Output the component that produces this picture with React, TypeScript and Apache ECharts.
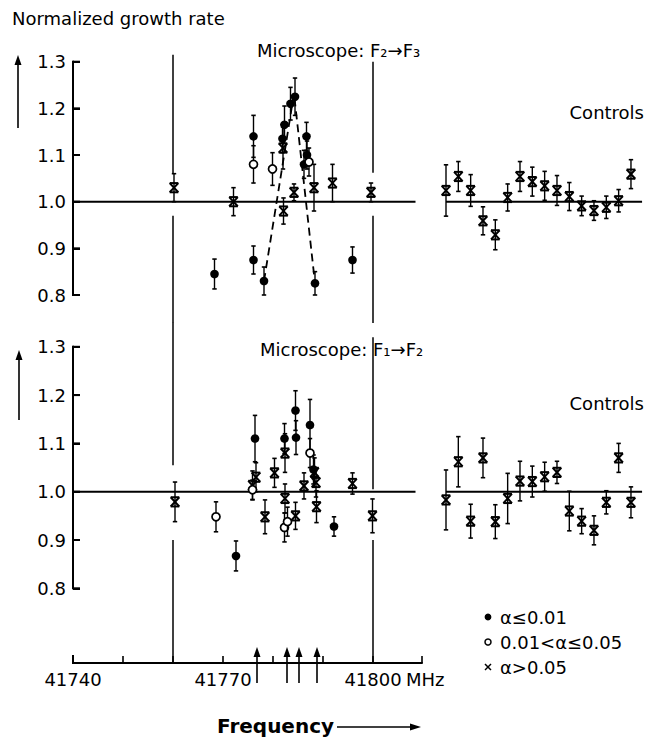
import React, { useEffect, useRef } from "react";
import * as echarts from "echarts";

// ---------- DATA ----------
// [frequency (MHz), normalized growth rate, error, kind]  kind: f = α≤0.01, o = 0.01<α≤0.05, x = α>0.05
const topMain: [number, number, number, string][] = [
  [41760.2, 1.03, 0.03, "x"],
  [41768.3, 0.845, 0.032, "f"],
  [41772.1, 1.0, 0.03, "x"],
  [41776.1, 1.14, 0.045, "f"],
  [41776.1, 1.08, 0.04, "o"],
  [41776.1, 0.875, 0.03, "f"],
  [41778.2, 0.83, 0.03, "f"],
  [41779.9, 1.07, 0.035, "o"],
  [41782.1, 0.98, 0.028, "x"],
  [41782.3, 1.165, 0.04, "f"],
  [41781.9, 1.135, 0.03, "f"],
  [41782.0, 1.115, 0.045, "x"],
  [41783.5, 1.21, 0.035, "f"],
  [41784.4, 1.225, 0.04, "f"],
  [41784.2, 1.02, 0.018, "x"],
  [41786.7, 1.14, 0.03, "f"],
  [41786.8, 1.1, 0.03, "f"],
  [41787.2, 1.085, 0.03, "o"],
  [41786.2, 1.08, 0.03, "f"],
  [41788.2, 1.03, 0.05, "x"],
  [41788.4, 0.825, 0.025, "f"],
  [41791.9, 1.04, 0.04, "x"],
  [41795.9, 0.875, 0.028, "f"],
  [41799.6, 1.02, 0.02, "x"],
];

const bottomMain: [number, number, number, string][] = [
  [41760.4, 0.979, 0.041, "x"],
  [41768.6, 0.948, 0.031, "o"],
  [41772.6, 0.867, 0.031, "f"],
  [41776.4, 1.11, 0.048, "f"],
  [41776.6, 1.03, 0.03, "x"],
  [41775.9, 1.013, 0.03, "x"],
  [41775.9, 1.004, 0.02, "o"],
  [41778.4, 0.948, 0.035, "x"],
  [41780.3, 1.039, 0.03, "x"],
  [41782.3, 1.11, 0.031, "f"],
  [41782.4, 1.08, 0.04, "x"],
  [41782.4, 0.986, 0.03, "x"],
  [41782.3, 0.926, 0.03, "o"],
  [41782.9, 0.938, 0.03, "o"],
  [41784.5, 1.168, 0.041, "f"],
  [41784.6, 1.112, 0.035, "f"],
  [41784.5, 0.95, 0.028, "x"],
  [41786.2, 1.012, 0.027, "x"],
  [41787.4, 1.138, 0.053, "f"],
  [41787.4, 1.08, 0.03, "o"],
  [41788.1, 1.046, 0.03, "f"],
  [41788.3, 1.04, 0.03, "x"],
  [41788.6, 1.019, 0.03, "x"],
  [41788.7, 0.969, 0.033, "x"],
  [41792.2, 0.928, 0.02, "f"],
  [41795.9, 1.017, 0.022, "x"],
  [41799.9, 0.95, 0.035, "x"],
];

const topControlValues = [1.024, 1.054, 1.024, 0.959, 0.929, 1.009, 1.054, 1.043, 1.034, 1.024, 1.011, 0.991, 0.981, 0.988, 1.002, 1.059];
const topControlErrors = [0.055, 0.032, 0.034, 0.03, 0.032, 0.029, 0.032, 0.031, 0.031, 0.032, 0.03, 0.021, 0.021, 0.024, 0.024, 0.031];
const bottomControlValues = [0.983, 1.062, 0.939, 1.07, 0.938, 0.986, 1.022, 1.021, 1.031, 1.04, 0.96, 0.939, 0.92, 0.978, 1.07, 0.978];
const bottomControlErrors = [0.062, 0.052, 0.035, 0.041, 0.035, 0.052, 0.041, 0.032, 0.03, 0.023, 0.041, 0.026, 0.03, 0.024, 0.03, 0.032];

// dashed resonance curve in the upper panel
const topPeakCurve = [
  [41778.2, 0.83],
  [41784.2, 1.232],
  [41788.4, 0.825],
];

// vertical reference lines [frequency, from value, to value]; to value 0 = down to the frequency axis
const TO_AXIS = 0;
const referenceLinesTop = [
  [41760, 1.315, 1.06],
  [41760, 0.97, 0.74],
  [41800, 1.3, 1.062],
  [41800, 0.97, 0.74],
];
const referenceLinesBottom = [
  [41760, 1.35, 1.055],
  [41760, 0.9, TO_AXIS],
  [41800, 1.32, 1.005],
  [41800, 0.9, TO_AXIS],
];

// arrows marking transition frequencies
const transitionFreqs = [41776.8, 41782.8, 41785.2, 41788.8];

const yTickValues = [0.8, 0.9, 1.0, 1.1, 1.2, 1.3];
const xTickLabels = [41740, 41770, 41800];
const legendLabels = ["α≤0.01", "0.01<α≤0.05", "α>0.05"];
const BASELINE = 1.0;
const BASELINE_END = 41808.5;
const CTRL_BASELINE_END = 15.9;

// ---------- LAYOUT ----------
const FONT = "DejaVu Sans";
const F_MIN = 41740;
const F_MAX = 41809.8;
const Y_MIN = 0.8;
const Y_MAX = 1.3;
const MAIN_X = 73;
const MAIN_W = 349;
const CTRL_X = 446;
const CTRL_W = 197.3;
const TOP_Y = 61.7;
const TOP_H = 233.3;
const BOT_Y = 346.8;
const BOT_H = 241.5;
const X_AXIS_OFFSET = 663 - (BOT_Y + BOT_H);
const Y_TICK_LEN = 7;

function marker(kind: string, cx: number, cy: number): any[] {
  if (kind === "f") {
    return [{ type: "circle", shape: { cx, cy, r: 4.3 }, style: { fill: "#000" } }];
  }
  if (kind === "o") {
    return [{ type: "circle", shape: { cx, cy, r: 4 }, style: { fill: "#fff", stroke: "#000", lineWidth: 1.7 } }];
  }
  const w = 4.3, h = 4.6;
  const st = { stroke: "#000", lineWidth: 2 };
  return [
    { type: "line", shape: { x1: cx - w, y1: cy - h, x2: cx + w, y2: cy + h }, style: st },
    { type: "line", shape: { x1: cx - w, y1: cy + h, x2: cx + w, y2: cy - h }, style: st },
    { type: "line", shape: { x1: cx - w, y1: cy - h, x2: cx + w, y2: cy - h }, style: st },
    { type: "line", shape: { x1: cx - w, y1: cy + h, x2: cx + w, y2: cy + h }, style: st },
  ];
}

function pointSeries(points: number[][], kind: string, axisIndex: number) {
  return {
    type: "custom",
    xAxisIndex: axisIndex,
    yAxisIndex: axisIndex,
    z: kind === "o" ? 6 : kind === "f" ? 5 : 4,
    silent: true,
    data: points,
    encode: { x: 0, y: 1 },
    renderItem: (params: any, api: any) => {
      const x = api.value(0);
      const v = api.value(1);
      const e = api.value(2);
      const c = api.coord([x, v]);
      const top = api.coord([x, v + e])[1];
      const bot = api.coord([x, v - e])[1];
      const bar = { stroke: "#000", lineWidth: 1.4 };
      const cap = { stroke: "#000", lineWidth: 1.6 };
      const children: any[] = [
        { type: "line", shape: { x1: c[0], y1: top, x2: c[0], y2: bot }, style: bar },
        { type: "line", shape: { x1: c[0] - 2.2, y1: top, x2: c[0] + 2.2, y2: top }, style: cap },
        { type: "line", shape: { x1: c[0] - 2.2, y1: bot, x2: c[0] + 2.2, y2: bot }, style: cap },
        ...marker(kind, c[0], c[1]),
      ];
      return { type: "group", children };
    },
  };
}

function mainSeries(src: [number, number, number, string][], axisIndex: number) {
  return ["x", "f", "o"].map((k) =>
    pointSeries(
      src.filter((p) => p[3] === k).map((p) => [p[0], p[1], p[2]]),
      k,
      axisIndex
    )
  );
}

function controlSeries(values: number[], errors: number[], axisIndex: number) {
  return pointSeries(values.map((v, i) => [i, v, errors[i]]), "x", axisIndex);
}

function baselineSeries(axisIndex: number, end: number, start: number, withAxisMark = false) {
  const s: any = {
    type: "line",
    xAxisIndex: axisIndex,
    yAxisIndex: axisIndex,
    data: [
      [start, BASELINE],
      [end, BASELINE],
    ],
    symbol: "none",
    silent: true,
    z: 2,
    lineStyle: { color: "#000", width: 2 },
  };
  if (withAxisMark) {
    // value-axis line as a vertical mark line at the first frequency
    s.markLine = {
      silent: true,
      symbol: "none",
      label: { show: false },
      lineStyle: { color: "#000", width: 2, type: "solid" },
      data: [{ xAxis: F_MIN }],
    };
  }
  return s;
}

function referenceSeries(segments: number[][], axisIndex: number) {
  return {
    type: "custom",
    xAxisIndex: axisIndex,
    yAxisIndex: axisIndex,
    silent: true,
    z: 1,
    data: segments,
    encode: { x: 0, y: 1 },
    renderItem: (params: any, api: any) => {
      const f = api.value(0);
      const p1 = api.coord([f, api.value(1)]);
      const v2 = api.value(2);
      const y2 = v2 === TO_AXIS ? params.coordSys.y + params.coordSys.height + X_AXIS_OFFSET : api.coord([f, v2])[1];
      return {
        type: "line",
        shape: { x1: p1[0], y1: p1[1], x2: p1[0], y2 },
        style: { stroke: "#000", lineWidth: 1.5 },
      };
    },
  };
}

function yAxisMain(gridIndex: number) {
  return {
    gridIndex,
    type: "value",
    min: Y_MIN,
    max: Y_MAX,
    interval: 0.1,
    axisLine: { show: true, onZero: false, lineStyle: { color: "#000", width: 2 } },
    axisTick: { show: true, inside: true, length: Y_TICK_LEN, lineStyle: { color: "#000", width: 2 } },
    axisLabel: {
      color: "#000",
      fontSize: 18,
      fontFamily: FONT,
      margin: 7,
      formatter: (v: number) => v.toFixed(1),
    },
    splitLine: { show: false },
  };
}

function hiddenAxis(gridIndex: number, min: number, max: number) {
  return { gridIndex, type: "value", min, max, show: false, splitLine: { show: false } };
}

// value-axis frame as filled rects, following the grid's linear value scale
function axisFrameRects(top: number, height: number): any[] {
  const yOf = (v: number) => top + ((Y_MAX - v) / (Y_MAX - Y_MIN)) * height;
  const out: any[] = [
    { type: "rect", z: 100, shape: { x: MAIN_X - 1, y: top - 1, width: 2, height: height + 2 }, style: { fill: "#000" } },
  ];
  yTickValues.forEach((v) => {
    out.push({
      type: "rect",
      z: 100,
      shape: { x: MAIN_X, y: yOf(v) - 1, width: Y_TICK_LEN, height: 2 },
      style: { fill: "#000" },
    });
  });
  return out;
}

function arrow(x1: number, y1: number, x2: number, y2: number, head = 10, half = 3.5) {
  const dx = x2 - x1, dy = y2 - y1;
  const len = Math.sqrt(dx * dx + dy * dy);
  const ux = dx / len, uy = dy / len;
  const bx = x2 - ux * head, by = y2 - uy * head;
  return [
    { type: "line", shape: { x1, y1, x2: bx, y2: by }, style: { stroke: "#000", lineWidth: 1.6 } },
    {
      type: "polygon",
      shape: { points: [[x2, y2], [bx - uy * half, by + ux * half], [bx + uy * half, by - ux * half]] },
      style: { fill: "#000" },
    },
  ];
}

function text(x: number, y: number, t: string, size: number, opts: any = {}) {
  return {
    type: "text",
    x,
    y,
    style: {
      text: t,
      fontSize: size,
      fontFamily: FONT,
      fontWeight: opts.weight || "normal",
      fill: "#000",
      align: opts.align || "left",
      verticalAlign: "middle",
    },
  };
}

function legendGraphics(): any[] {
  const mx = 488;
  const tx = 500;
  const rows = [617, 642, 667];
  return [
    { type: "circle", shape: { cx: mx, cy: rows[0], r: 3.4 }, style: { fill: "#000" } },
    { type: "circle", shape: { cx: mx, cy: rows[1], r: 3 }, style: { fill: "#fff", stroke: "#000", lineWidth: 1.5 } },
    { type: "line", shape: { x1: mx - 3, y1: rows[2] - 3, x2: mx + 3, y2: rows[2] + 3 }, style: { stroke: "#000", lineWidth: 1.5 } },
    { type: "line", shape: { x1: mx - 3, y1: rows[2] + 3, x2: mx + 3, y2: rows[2] - 3 }, style: { stroke: "#000", lineWidth: 1.5 } },
    text(tx, rows[0], legendLabels[0], 18),
    text(tx, rows[1], legendLabels[1], 18),
    text(tx, rows[2], legendLabels[2], 18),
  ];
}

function buildOption(): any {
  return {
    animation: false,
    backgroundColor: "#fff",
    grid: [
      { left: MAIN_X, top: TOP_Y, width: MAIN_W, height: TOP_H },
      { left: CTRL_X, top: TOP_Y, width: CTRL_W, height: TOP_H },
      { left: MAIN_X, top: BOT_Y, width: MAIN_W, height: BOT_H },
      { left: CTRL_X, top: BOT_Y, width: CTRL_W, height: BOT_H },
    ],
    xAxis: [
      hiddenAxis(0, F_MIN, F_MAX),
      hiddenAxis(1, 0, 16),
      {
        gridIndex: 2,
        type: "value",
        min: F_MIN,
        max: F_MAX,
        interval: 10,
        offset: X_AXIS_OFFSET,
        axisLine: { show: true, onZero: false, lineStyle: { color: "#000", width: 2 } },
        axisTick: { show: true, inside: true, length: 7, lineStyle: { color: "#000", width: 1.6 } },
        axisLabel: {
          color: "#000",
          fontSize: 18,
          fontFamily: FONT,
          margin: 7,
          formatter: (v: number) => (xTickLabels.indexOf(v) >= 0 ? String(v) : ""),
        },
        splitLine: { show: false },
      },
      hiddenAxis(3, 0, 16),
    ],
    yAxis: [yAxisMain(0), hiddenAxis(1, Y_MIN, Y_MAX), yAxisMain(2), hiddenAxis(3, Y_MIN, Y_MAX)],
    graphic: [
      ...axisFrameRects(TOP_Y, TOP_H),
      ...axisFrameRects(BOT_Y, BOT_H),
      { type: "rect", z: 100, shape: { x: MAIN_X - 1, y: 655, width: 2, height: 9 }, style: { fill: "#000" } },
      text(12, 18, "Normalized growth rate", 18),
      text(257, 50, "Microscope: F₂→F₃", 18),
      text(260, 349, "Microscope: F₁→F₂", 18),
      text(644, 112, "Controls", 18, { align: "right" }),
      text(644, 403, "Controls", 18, { align: "right" }),
      text(406, 679, "MHz", 18),
      text(217, 726, "Frequency", 20, { weight: "bold" }),
      ...arrow(337, 727, 421, 727, 11, 3.5),
      ...arrow(18, 128, 18, 55),
      ...arrow(19, 420, 19, 350),
      ...legendGraphics(),
    ],
    series: [
      baselineSeries(0, BASELINE_END, F_MIN, true),
      baselineSeries(1, CTRL_BASELINE_END, 0),
      baselineSeries(2, BASELINE_END, F_MIN, true),
      baselineSeries(3, CTRL_BASELINE_END, 0),
      referenceSeries(referenceLinesTop, 0),
      referenceSeries(referenceLinesBottom, 2),
      {
        type: "line",
        xAxisIndex: 0,
        yAxisIndex: 0,
        data: topPeakCurve,
        symbol: "none",
        silent: true,
        z: 3,
        lineStyle: { color: "#000", width: 1.8, type: [8, 5] },
      },
      ...mainSeries(topMain, 0),
      controlSeries(topControlValues, topControlErrors, 1),
      ...mainSeries(bottomMain, 2),
      controlSeries(bottomControlValues, bottomControlErrors, 3),
      {
        type: "custom",
        xAxisIndex: 2,
        yAxisIndex: 2,
        silent: true,
        z: 3,
        data: transitionFreqs.map((f) => [f, 0.8]),
        encode: { x: 0, y: 1 },
        renderItem: (params: any, api: any) => {
          const x = api.coord([api.value(0), 0.8])[0];
          const axisY = params.coordSys.y + params.coordSys.height + X_AXIS_OFFSET;
          const bottom = axisY + 20;
          const tip = axisY - 16;
          return {
            type: "group",
            children: [
              { type: "line", shape: { x1: x, y1: bottom, x2: x, y2: tip + 8 }, style: { stroke: "#000", lineWidth: 1.6 } },
              {
                type: "polygon",
                shape: { points: [[x, tip], [x - 3.5, tip + 10], [x + 3.5, tip + 10]] },
                style: { fill: "#000" },
              },
            ],
          };
        },
      },
    ],
  };
}

export default function App() {
  const ref = useRef<HTMLDivElement>(null);
  useEffect(() => {
    if (!ref.current) return;
    const chart = echarts.init(ref.current, null, { renderer: "svg" });
    chart.setOption(buildOption());
    return () => chart.dispose();
  }, []);
  return (
    <div
      ref={ref}
      style={{ position: "fixed", left: 0, top: 0, width: 658, height: 737, background: "#fff" }}
    />
  );
}
